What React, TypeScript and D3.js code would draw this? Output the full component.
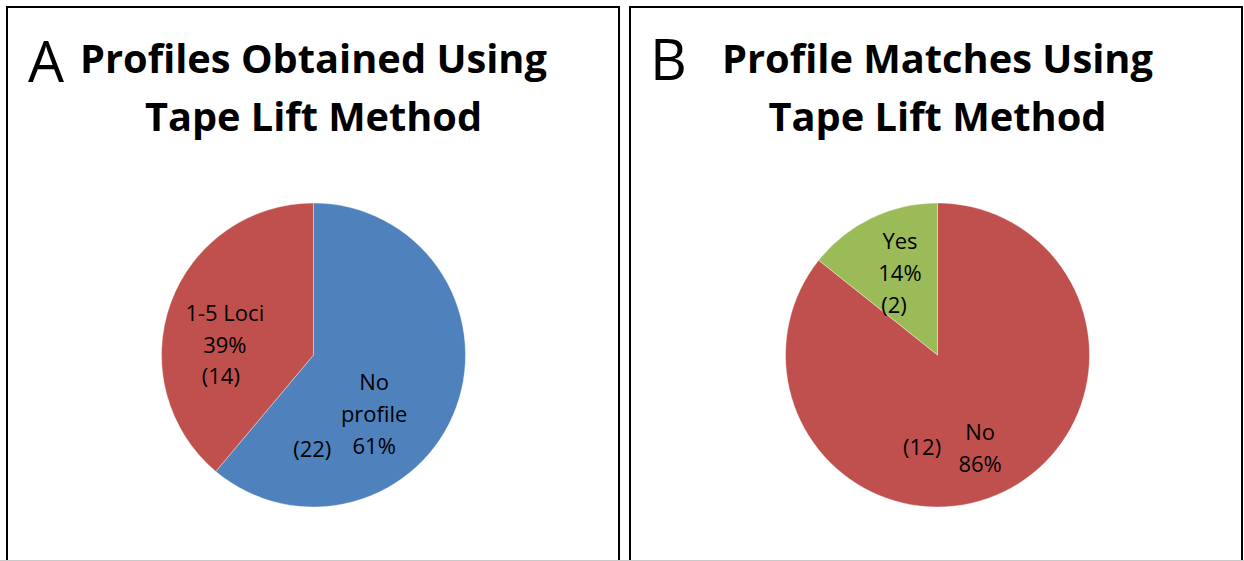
import React from 'react';
import * as d3 from 'd3';

// values
const categoriesA = ['No profile', '1-5 Loci'];
const countsA = [22, 14];
const titleA = ['Profiles Obtained Using', 'Tape Lift Method'];

const categoriesB = ['No', 'Yes'];
const countsB = [12, 2];
const titleB = ['Profile Matches Using', 'Tape Lift Method'];

const W = 1244;
const H = 561;
const R = 152;
const CY = 355;
const FONT = "'Open Sans', 'Noto Sans', sans-serif";

// layout of each panel (label offsets are relative to the slice centroid)
const panels = [
  {
    letter: 'A',
    letterX: 28,
    letterY: 82,
    title: titleA,
    titleWidths: [467, 337],
    cats: categoriesA,
    counts: countsA,
    colors: ['#4F81BD', '#C0504D'],
    boxX: 7,
    cx: 313.5,
    labels: [
      { wrap: true, dx: -25, dy: 4, cdx: -87, cdy: 71 },
      { wrap: false, dx: -3, dy: -3, cdx: -7, cdy: 60 },
    ],
  },
  {
    letter: 'B',
    letterX: 650,
    letterY: 80,
    title: titleB,
    titleWidths: [431, 338],
    cats: categoriesB,
    counts: countsB,
    colors: ['#C0504D', '#9BBB59'],
    boxX: 630,
    cx: 937.5,
    labels: [
      { wrap: false, dx: 3, dy: 3, cdx: -55, cdy: 18 },
      { wrap: false, dx: 2, dy: -24, cdx: -4, cdy: 40 },
    ],
  },
];

const pct = d3.format('.0%');

const Panel = ({ p }) => {
  const pie = d3.pie<number>().sort(null).value((d) => d);
  const arcs = pie(p.counts);
  const total = d3.sum(p.counts);
  const arc = d3.arc<any>().innerRadius(0).outerRadius(R);
  const labelArc = d3.arc<any>().innerRadius(R * 0.6).outerRadius(R * 0.6);
  const lineH = 32;

  return (
    <g>
      <rect x={p.boxX} y={7} width={612} height={620} fill="#fff" stroke="#000" strokeWidth={2} />
      <text x={p.letterX} y={p.letterY} fontFamily={FONT} fontSize={57} fill="#000">
        {p.letter}
      </text>
      {p.title.map((t, i) => (
        <text
          key={t}
          x={p.cx}
          y={73 + i * 58}
          textAnchor="middle"
          fontFamily={FONT}
          fontWeight="bold"
          fontSize={40}
          textLength={p.titleWidths[i]}
          lengthAdjust="spacingAndGlyphs"
          fill="#000"
        >
          {t}
        </text>
      ))}
      <g transform={`translate(${p.cx},${CY})`}>
        {arcs.map((a, i) => (
          <path key={i} d={arc(a)} fill={p.colors[i]} stroke="#fff" strokeOpacity={0.6} strokeWidth={0.6} />
        ))}
        {arcs.map((a, i) => {
          const [x, y] = labelArc.centroid(a);
          const lay = p.labels[i];
          const name = p.cats[i];
          const lines = (lay.wrap ? name.split(' ') : [name]).concat(pct(a.data / total));
          return (
            <g key={'l' + i} fontFamily={FONT} fontSize={22} fill="#000" textAnchor="middle">
              {lines.map((s, j) => (
                <text key={j} x={x + lay.dx} y={y + lay.dy + j * lineH}>
                  {s}
                </text>
              ))}
              <text x={x + lay.cdx} y={y + lay.cdy}>{`(${a.data})`}</text>
            </g>
          );
        })}
      </g>
    </g>
  );
};

export default function App() {
  return (
    <svg
      width={W}
      height={H}
      style={{ position: 'absolute', left: 0, top: 0, background: '#fff' }}
    >
      {panels.map((p) => (
        <Panel key={p.letter} p={p} />
      ))}
      <line x1={0} x2={W} y1={560.5} y2={560.5} stroke="#c8c8c8" strokeWidth={1} />
    </svg>
  );
}
